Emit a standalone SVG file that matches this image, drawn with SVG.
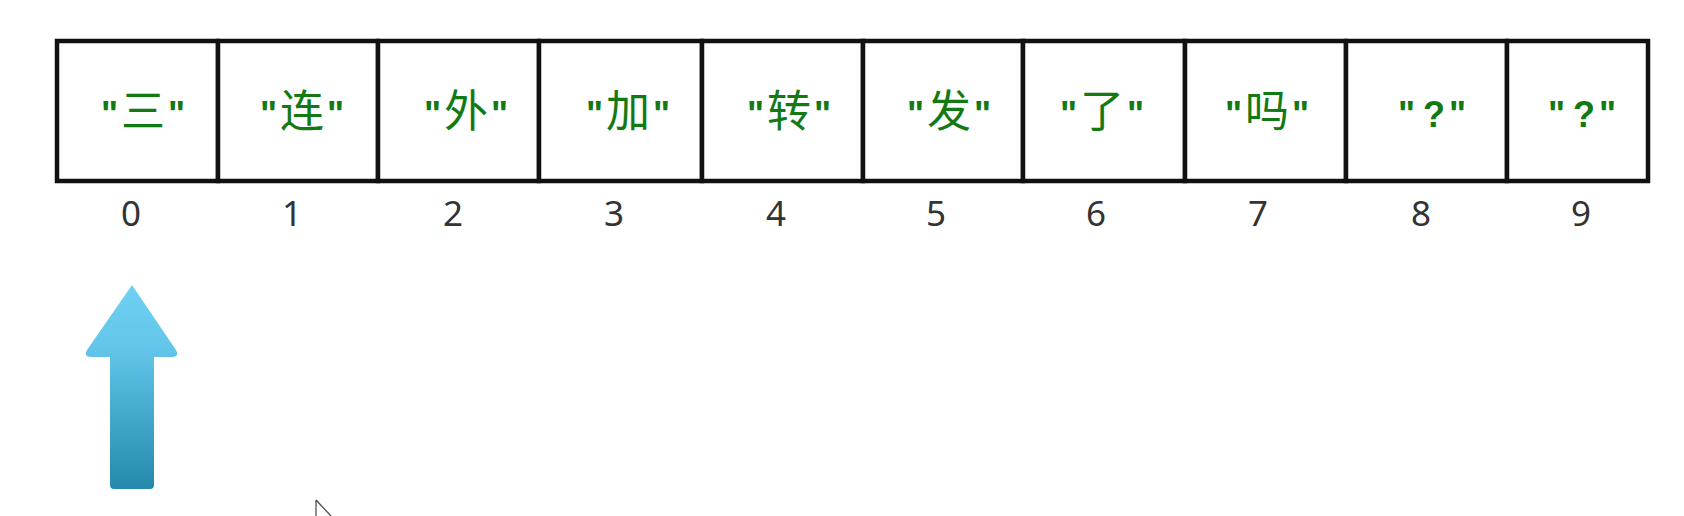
<svg xmlns="http://www.w3.org/2000/svg" width="1684" height="516" viewBox="0 0 1684 516">
<defs>
<style>
.cell{fill:#fff;stroke:#111;stroke-width:4.5}
.val{font-family:"Liberation Sans","Noto Sans CJK SC",sans-serif;font-size:44px;fill:#137a13;text-anchor:middle}
.q{font-weight:bold;font-size:36px}
.ch{font-family:"Noto Sans CJK SC",sans-serif;font-weight:400}
.idx{font-family:"Noto Sans","Liberation Sans",sans-serif;font-size:35px;fill:#333;text-anchor:middle}
</style>
<linearGradient id="ag" x1="0" y1="0" x2="0" y2="1">
<stop offset="0" stop-color="#6fd0f2"/>
<stop offset="0.3" stop-color="#63c6ea"/>
<stop offset="1" stop-color="#2489ab"/>
</linearGradient>
</defs>
<rect width="1684" height="516" fill="#fff"/>
<g id="cells">
<g id="c0"><rect class="cell" x="57" y="41" width="161" height="140"/><text class="val" x="143" y="127"><tspan class="q">"</tspan><tspan class="ch" dx="3">三</tspan><tspan class="q" dx="3">"</tspan></text><text class="idx" x="131" y="226">0</text></g>
<g id="c1"><rect class="cell" x="218" y="41" width="160" height="140"/><text class="val" x="302" y="127"><tspan class="q">"</tspan><tspan class="ch" dx="3">连</tspan><tspan class="q" dx="3">"</tspan></text><text class="idx" x="292" y="226">1</text></g>
<g id="c2"><rect class="cell" x="378" y="41" width="161" height="140"/><text class="val" x="466" y="127"><tspan class="q">"</tspan><tspan class="ch" dx="3">外</tspan><tspan class="q" dx="3">"</tspan></text><text class="idx" x="453" y="226">2</text></g>
<g id="c3"><rect class="cell" x="539" y="41" width="163" height="140"/><text class="val" x="628" y="127"><tspan class="q">"</tspan><tspan class="ch" dx="3">加</tspan><tspan class="q" dx="3">"</tspan></text><text class="idx" x="614" y="226">3</text></g>
<g id="c4"><rect class="cell" x="702" y="41" width="161" height="140"/><text class="val" x="789" y="127"><tspan class="q">"</tspan><tspan class="ch" dx="3">转</tspan><tspan class="q" dx="3">"</tspan></text><text class="idx" x="776" y="226">4</text></g>
<g id="c5"><rect class="cell" x="863" y="41" width="160" height="140"/><text class="val" x="949" y="127"><tspan class="q">"</tspan><tspan class="ch" dx="3">发</tspan><tspan class="q" dx="3">"</tspan></text><text class="idx" x="936" y="226">5</text></g>
<g id="c6"><rect class="cell" x="1023" y="41" width="162" height="140"/><text class="val" x="1102" y="127"><tspan class="q">"</tspan><tspan class="ch" dx="3">了</tspan><tspan class="q" dx="3">"</tspan></text><text class="idx" x="1096" y="226">6</text></g>
<g id="c7"><rect class="cell" x="1185" y="41" width="161" height="140"/><text class="val" x="1267" y="127"><tspan class="q">"</tspan><tspan class="ch" dx="3">吗</tspan><tspan class="q" dx="3">"</tspan></text><text class="idx" x="1258" y="226">7</text></g>
<g id="c8"><rect class="cell" x="1346" y="41" width="161" height="140"/><text class="val" x="1432" y="127"><tspan class="q">"</tspan><tspan class="q" dx="8">?</tspan><tspan class="q" dx="4">"</tspan></text><text class="idx" x="1421" y="226">8</text></g>
<g id="c9"><rect class="cell" x="1507" y="41" width="141" height="140"/><text class="val" x="1582" y="127"><tspan class="q">"</tspan><tspan class="q" dx="8">?</tspan><tspan class="q" dx="4">"</tspan></text><text class="idx" x="1581" y="226">9</text></g>
</g>
<g id="pointer">
<path d="M132 285 L176 350 Q180 357 172 357 L154 357 L154 485 Q154 489 150 489 L114 489 Q110 489 110 485 L110 357 L91 357 Q83 357 87 350 Z" fill="url(#ag)"/>
</g>
<g id="cursor">
<path d="M316 500 L316 516 M316 500 L331 516" fill="none" stroke="#444" stroke-width="1.2"/>
</g>
</svg>
